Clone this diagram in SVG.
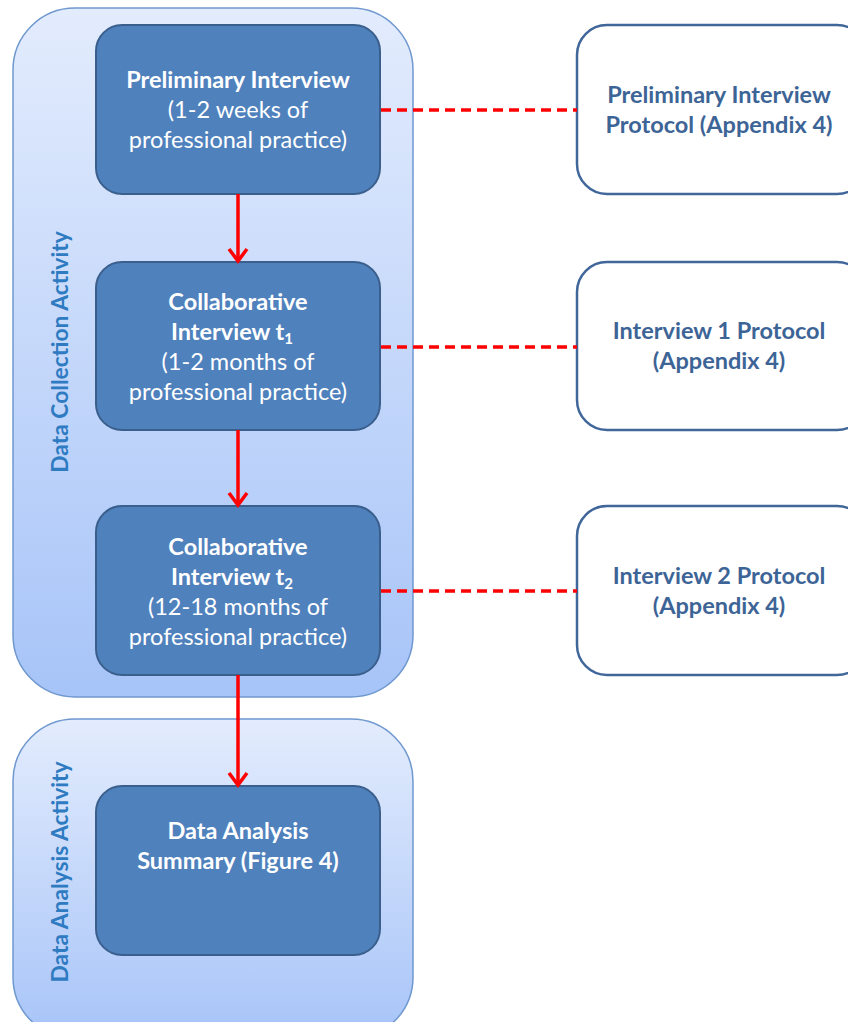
<svg xmlns="http://www.w3.org/2000/svg" width="848" height="1022" viewBox="0 0 848 1022">
  <defs>
    <linearGradient id="groupFill" x1="0" y1="0" x2="0" y2="1">
      <stop offset="0" stop-color="#e3ecfd"/>
      <stop offset="1" stop-color="#a7c4f8"/>
    </linearGradient>
    <!-- open V arrowhead, drawn pointing along +x so orient="auto" aligns it with the line -->
    <marker id="arrow" viewBox="0 0 18 22" refX="15" refY="11" markerWidth="18" markerHeight="22" markerUnits="userSpaceOnUse" orient="auto">
      <path d="M3,2 L15,11 L3,20" fill="none" stroke="#ff0000" stroke-width="3.5" stroke-linejoin="miter"/>
    </marker>
    <style>
      .group { fill: url(#groupFill); stroke: #6f98cf; stroke-width: 1.5; }
      .step { fill: #4f81bd; stroke: #3b5f8c; stroke-width: 2; }
      .doc { fill: #ffffff; stroke: #41679a; stroke-width: 2.5; }
      .stepText { font-family: Lato, "Liberation Sans", sans-serif; font-size: 23.5px; fill: #ffffff; text-anchor: middle; }
      .docText { font-family: Lato, "Liberation Sans", sans-serif; font-size: 23.5px; font-weight: bold; fill: #3d6496; text-anchor: middle; }
      .groupText { font-family: Lato, "Liberation Sans", sans-serif; font-size: 22.8px; font-weight: bold; fill: #2e7bc2; text-anchor: middle; }
      .b { font-weight: bold; }
      .flow { stroke: #ff0000; stroke-width: 3.5; fill: none; }
      .link { stroke: #ff0000; stroke-width: 3.5; stroke-dasharray: 10 6; fill: none; }
    </style>
  </defs>

  <!-- activity groups -->
  <g id="data-collection-activity">
    <rect class="group" x="13" y="8" width="400" height="689" rx="62"/>
    <text class="groupText" transform="translate(68,352) rotate(-90)">Data Collection Activity</text>
  </g>
  <g id="data-analysis-activity">
    <rect class="group" x="13" y="719" width="400" height="320" rx="62"/>
    <text class="groupText" transform="translate(68,872) rotate(-90)">Data Analysis Activity</text>
  </g>

  <!-- steps -->
  <g id="preliminary-interview">
    <rect class="step" x="96" y="25" width="284" height="169" rx="26"/>
    <text class="stepText" x="238" y="88"><tspan class="b">Preliminary Interview</tspan><tspan x="238" dy="30">(1-2 weeks of</tspan><tspan x="238" dy="30">professional practice)</tspan></text>
  </g>
  <g id="collaborative-interview-t1">
    <rect class="step" x="96" y="262" width="284" height="168" rx="26"/>
    <text class="stepText" x="238" y="310"><tspan class="b">Collaborative</tspan><tspan x="232" dy="30" class="b">Interview t</tspan><tspan class="b" font-size="15" dy="4">1</tspan><tspan x="238" dy="26">(1-2 months of</tspan><tspan x="238" dy="30">professional practice)</tspan></text>
  </g>
  <g id="collaborative-interview-t2">
    <rect class="step" x="96" y="506" width="284" height="169" rx="26"/>
    <text class="stepText" x="238" y="555"><tspan class="b">Collaborative</tspan><tspan x="232" dy="30" class="b">Interview t</tspan><tspan class="b" font-size="15" dy="4">2</tspan><tspan x="238" dy="26">(12-18 months of</tspan><tspan x="238" dy="30">professional practice)</tspan></text>
  </g>
  <g id="data-analysis-summary">
    <rect class="step" x="96" y="786" width="284" height="169" rx="26"/>
    <text class="stepText b" x="238" y="839"><tspan>Data Analysis</tspan><tspan x="238" dy="30">Summary (Figure 4)</tspan></text>
  </g>

  <!-- protocol documents -->
  <g id="preliminary-protocol">
    <rect class="doc" x="577" y="25" width="290" height="169" rx="30"/>
    <text class="docText" x="719" y="103"><tspan>Preliminary Interview</tspan><tspan x="719" dy="30">Protocol (Appendix 4)</tspan></text>
  </g>
  <g id="interview-1-protocol">
    <rect class="doc" x="577" y="262" width="290" height="168" rx="30"/>
    <text class="docText" x="719" y="339"><tspan>Interview 1 Protocol</tspan><tspan x="719" dy="30">(Appendix 4)</tspan></text>
  </g>
  <g id="interview-2-protocol">
    <rect class="doc" x="577" y="506" width="290" height="169" rx="30"/>
    <text class="docText" x="719" y="584"><tspan>Interview 2 Protocol</tspan><tspan x="719" dy="30">(Appendix 4)</tspan></text>
  </g>

  <!-- connectors -->
  <g id="connectors">
    <line class="flow" x1="238" y1="194" x2="238" y2="261" marker-end="url(#arrow)"/>
    <line class="flow" x1="238" y1="430" x2="238" y2="505" marker-end="url(#arrow)"/>
    <line class="flow" x1="238" y1="675" x2="238" y2="785" marker-end="url(#arrow)"/>
    <line class="link" x1="381" y1="110" x2="577" y2="110"/>
    <line class="link" x1="381" y1="347" x2="577" y2="347"/>
    <line class="link" x1="381" y1="591" x2="577" y2="591"/>
  </g>
</svg>
